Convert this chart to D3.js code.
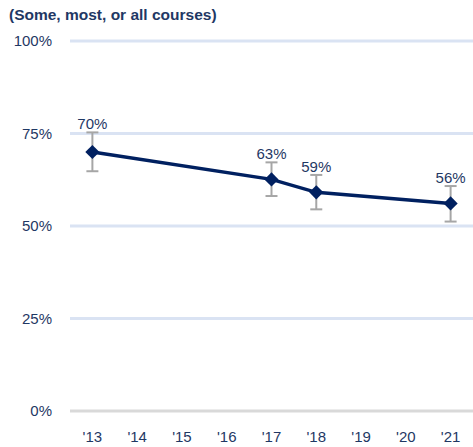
<!DOCTYPE html>
<html>
<head>
<meta charset="utf-8">
<script src="https://cdn.jsdelivr.net/npm/d3@7"></script>
<style>
  body { margin: 0; background: #fff; }
  svg text { font-family: "Liberation Sans", Arial, sans-serif; }
</style>
</head>
<body>
<svg id="chart" width="473" height="447"></svg>
<script>
// chart data
var years = ["'13", "'14", "'15", "'16", "'17", "'18", "'19", "'20", "'21"];
var pointYears = ["'13", "'17", "'18", "'21"];
var values = [70, 62.6, 59.1, 56.1];
var labels = ["70%", "63%", "59%", "56%"];
var errLow = [64.8, 58.1, 54.5, 51.2];
var errHigh = [75.3, 67.2, 63.8, 60.8];
var yTicks = [0, 25, 50, 75, 100];

var width = 473, height = 447;
var margin = { top: 41, right: 0, bottom: 36, left: 70 };

var svg = d3.select("#chart");

var x = d3.scaleBand()
    .domain(years)
    .range([margin.left, width - margin.right]);

var y = d3.scaleLinear()
    .domain([0, 100])
    .range([height - margin.bottom, margin.top]);

var navy = "#002060";
var textColor = "#1f3864";

// title
svg.append("text")
    .attr("x", 9)
    .attr("y", 20)
    .attr("font-size", 15.5)
    .attr("font-weight", "bold")
    .attr("fill", textColor)
    .text("(Some, most, or all courses)");

// gridlines
svg.append("g").selectAll("line")
    .data(yTicks)
    .enter().append("line")
    .attr("x1", margin.left)
    .attr("x2", width - margin.right)
    .attr("y1", function (d) { return y(d); })
    .attr("y2", function (d) { return y(d); })
    .attr("stroke", function (d) { return d === 0 ? "#d9d9d9" : "#dae3f3"; })
    .attr("stroke-width", 3);

// y axis labels
svg.append("g").selectAll("text")
    .data(yTicks)
    .enter().append("text")
    .attr("x", 52)
    .attr("y", function (d) { return y(d) + 5; })
    .attr("text-anchor", "end")
    .attr("font-size", 15)
    .attr("fill", textColor)
    .text(function (d) { return d + "%"; });

// x axis labels
svg.append("g").selectAll("text")
    .data(years)
    .enter().append("text")
    .attr("x", function (d) { return x(d) + x.bandwidth() / 2; })
    .attr("y", 442)
    .attr("text-anchor", "middle")
    .attr("font-size", 15)
    .attr("fill", textColor)
    .text(function (d) { return d; });

var pts = pointYears.map(function (yr, i) {
    return { x: x(yr) + x.bandwidth() / 2, v: values[i], lo: errLow[i], hi: errHigh[i], label: labels[i] };
});

// error bars
var eb = svg.append("g").attr("stroke", "#a6a6a6").attr("stroke-width", 2);
pts.forEach(function (p) {
    eb.append("line").attr("x1", p.x).attr("x2", p.x).attr("y1", y(p.lo)).attr("y2", y(p.hi));
    eb.append("line").attr("x1", p.x - 6).attr("x2", p.x + 6).attr("y1", y(p.lo)).attr("y2", y(p.lo));
    eb.append("line").attr("x1", p.x - 6).attr("x2", p.x + 6).attr("y1", y(p.hi)).attr("y2", y(p.hi));
});

// line
var line = d3.line()
    .x(function (d) { return d.x; })
    .y(function (d) { return y(d.v); });

svg.append("path")
    .datum(pts)
    .attr("d", line)
    .attr("fill", "none")
    .attr("stroke", navy)
    .attr("stroke-width", 3.5);

// diamond markers
svg.append("g").selectAll("path")
    .data(pts)
    .enter().append("path")
    .attr("d", d3.symbol().type(d3.symbolSquare).size(100))
    .attr("transform", function (d) { return "translate(" + d.x + "," + y(d.v) + ") rotate(45)"; })
    .attr("fill", navy);

// value labels
svg.append("g").selectAll("text")
    .data(pts)
    .enter().append("text")
    .attr("x", function (d) { return d.x; })
    .attr("y", function (d) { return y(d.hi) - 3; })
    .attr("text-anchor", "middle")
    .attr("font-size", 15)
    .attr("fill", textColor)
    .text(function (d) { return d.label; });
</script>
</body>
</html>
